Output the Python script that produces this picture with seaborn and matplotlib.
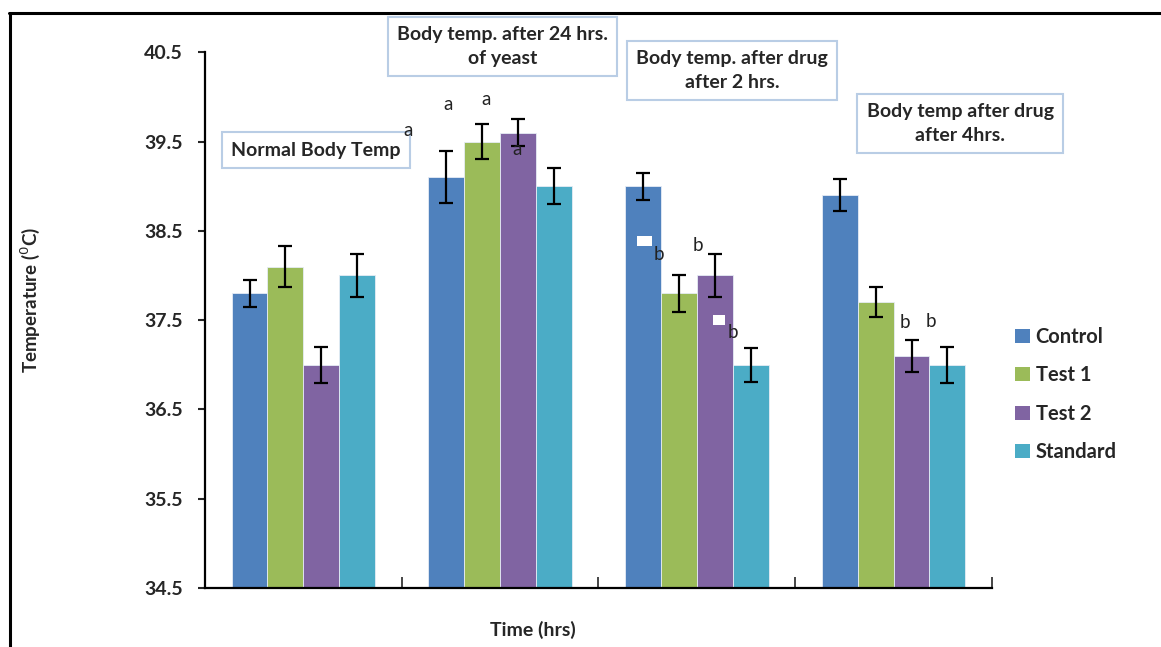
import pandas as pd
import matplotlib.pyplot as plt
import seaborn as sns
from matplotlib.patches import Patch, Rectangle
from matplotlib.lines import Line2D

# data
groups = ["Normal", "24 hrs yeast", "Drug 2 hrs", "Drug 4 hrs"]
treatments = ["Control", "Test 1", "Test 2", "Standard"]
control = [37.8, 39.1, 39.0, 38.9]
test1 = [38.1, 39.5, 37.8, 37.7]
test2 = [37.0, 39.6, 38.0, 37.1]
standard = [38.0, 39.0, 37.0, 37.0]
control_err = [0.15, 0.29, 0.15, 0.18]
test1_err = [0.23, 0.20, 0.21, 0.17]
test2_err = [0.20, 0.15, 0.24, 0.18]
standard_err = [0.24, 0.20, 0.19, 0.20]

box_titles = ["Normal Body Temp", "Body temp. after 24 hrs.\nof yeast",
              "Body temp. after drug\nafter 2 hrs.", "Body temp after drug\nafter 4hrs."]
letters = ["a", "a", "a", "a", "b", "b", "b", "b", "b"]
letter_x = [0.53, 0.734, 0.926, 1.084, 1.805, 2.003, 2.185, 3.058, 3.19]
letter_y = [39.62, 39.92, 39.97, 39.41, 38.23, 38.34, 37.36, 37.47, 37.49]

colors = ["#4F81BD", "#9BBB59", "#8064A2", "#4BACC6"]

values = [control, test1, test2, standard]
errors = [control_err, test1_err, test2_err, standard_err]
df = pd.DataFrame({
    "group": [g for _ in treatments for g in groups],
    "treatment": [t for t in treatments for _ in groups],
    "temp": [v for vals in values for v in vals],
    "err": [e for errs in errors for e in errs],
})

sns.set_style("white")
plt.rcParams["font.family"] = ["Lato", "DejaVu Sans"]

fig = plt.figure(figsize=(11.61, 6.47), dpi=100)
ax = fig.add_axes([0.1766, 0.0912, 0.8544 - 0.1766, 0.9192 - 0.0912])

sns.barplot(data=df, x="group", y="temp", hue="treatment", order=groups,
            hue_order=treatments, palette=colors, errorbar=None, width=0.73,
            legend=False, ax=ax, edgecolor="#e6ecf5", linewidth=0.6,
            saturation=1)

# error bars on each bar (patches come hue level by hue level)
bars = ax.patches[:len(df)]
for bar, (_, row) in zip(bars, df.iterrows()):
    cx = bar.get_x() + bar.get_width() / 2
    ax.errorbar(cx, bar.get_height(), yerr=row["err"], color="black",
                capsize=5, capthick=1.6, elinewidth=1.6, zorder=5)

ax.set_ylim(34.5, 40.5)
ax.set_xlim(-0.5, 3.5)
ax.set_yticks([34.5, 35.5, 36.5, 37.5, 38.5, 39.5, 40.5])
ax.set_yticklabels([f"{v:.1f}" for v in ax.get_yticks()], fontsize=14, fontweight="bold")
ax.set_xticks([0.5, 1.5, 2.5, 3.5])
ax.set_xticklabels([])
ax.tick_params(axis="y", direction="out", length=5, width=1.5, left=True, pad=11)
ax.tick_params(axis="x", direction="in", length=8, width=1.2, bottom=True)
for s in ["top", "right"]:
    ax.spines[s].set_visible(False)
for s in ["left", "bottom"]:
    ax.spines[s].set_color("black")
    ax.spines[s].set_linewidth(1.6)

ax.set_xlabel("")
ax.set_ylabel("")
fig.text(0.459, 0.026, "Time (hrs)", ha="center", va="center", fontsize=14, fontweight="bold")
fig.text(0.026, 0.536, "Temperature ($^{0}$C)", rotation=90, ha="center", va="center",
         fontsize=13.5, fontweight="bold")

# significance letters (drawn above the title boxes)
for lx, ly, lt in zip(letter_x, letter_y, letters):
    ax.text(lx, ly, lt, ha="center", va="center", fontsize=13.5, color="#222222",
            zorder=7, clip_on=False)

# white gaps left by the letter boxes in the original
ax.add_patch(Rectangle((1.698, 38.33), 0.076, 0.113, facecolor="white", edgecolor="none", zorder=4))
ax.add_patch(Rectangle((2.084, 37.44), 0.061, 0.12, facecolor="white", edgecolor="none", zorder=4))

# group title boxes
box_pos = [(0.272, 0.768), (0.433, 0.928), (0.6305, 0.891), (0.827, 0.809)]
for (bx, by), title in zip(box_pos, box_titles):
    ax.text(bx, by, title, transform=fig.transFigure, ha="center", va="center",
            fontsize=14, fontweight="bold", linespacing=1.45, zorder=6, clip_on=False,
            bbox=dict(boxstyle="square,pad=0.47", facecolor="white", edgecolor="#b9cde5", linewidth=1.5))

handles = [Patch(facecolor=c, edgecolor="none") for c in colors]
fig.legend(handles, treatments, loc="upper left", bbox_to_anchor=(0.859, 0.523),
           frameon=False, prop={"weight": "bold", "size": 14.5},
           handlelength=0.7, handleheight=0.7, handletextpad=0.3, labelspacing=0.92)

# outer frame (top and left edges only)
fig.add_artist(Line2D([0.0078, 1.0], [0.980, 0.980], color="black", linewidth=2.2))
fig.add_artist(Line2D([0.0086, 0.0086], [0.0, 0.980], color="black", linewidth=2.2))

fig.savefig("out.png", dpi=100)
